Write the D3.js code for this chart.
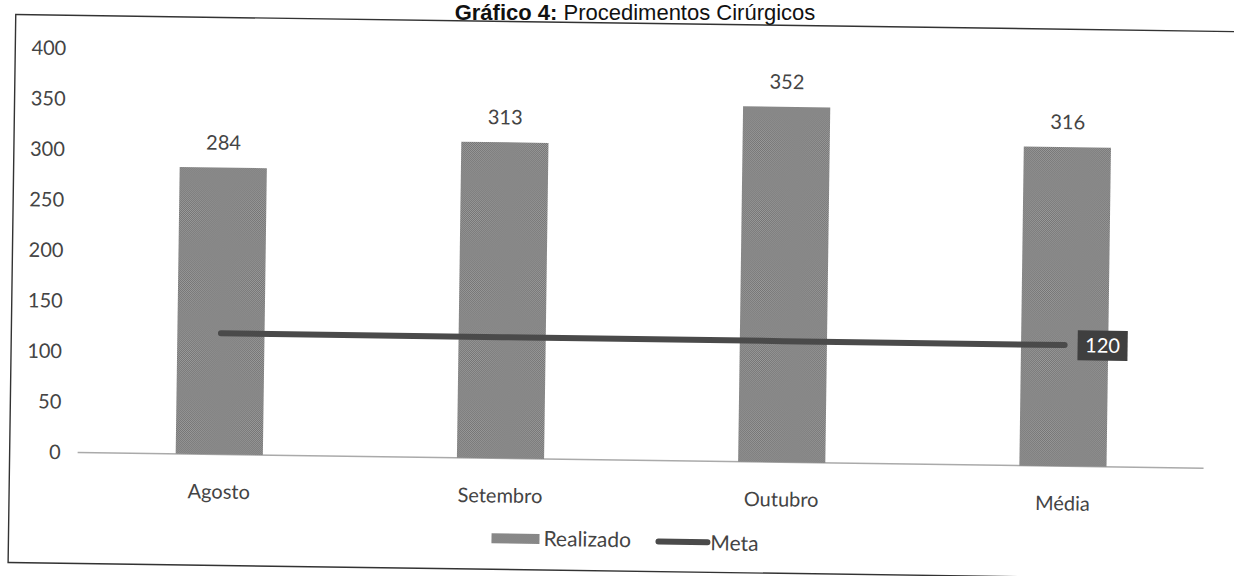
<!DOCTYPE html>
<html><head><meta charset="utf-8">
<script src="https://cdn.jsdelivr.net/npm/d3@7"></script>
<style>body{margin:0;background:#fff}svg{display:block}</style>
</head><body>
<svg id="c" width="1234" height="576"></svg>
<script>
const categories = ["Agosto","Setembro","Outubro","Média"];
const realizado = [284,313,352,316];
const meta = [120,120,120,120];
const yTicks = [0,50,100,150,200,250,300,350,400];

const svg = d3.select("#c");
const g = svg.append("g").attr("transform","rotate(0.8,617,288)");
const font = "Lato, 'Open Sans', sans-serif";

// pattern for halftone gray
const defs = svg.append("defs");
const pat = defs.append("pattern").attr("id","ht").attr("width",2).attr("height",2).attr("patternUnits","userSpaceOnUse");
pat.append("rect").attr("width",2).attr("height",2).attr("fill","#9c9c9c");
pat.append("rect").attr("width",1).attr("height",1).attr("fill","#737373");
pat.append("rect").attr("x",1).attr("y",1).attr("width",1).attr("height",1).attr("fill","#737373");

// frame
g.append("rect").attr("x",12).attr("y",23).attr("width",1240).attr("height",548)
 .attr("fill","none").attr("stroke","#333").attr("stroke-width",1.4);

// title
const t = svg.append("text").attr("x",635).attr("y",20).attr("text-anchor","middle")
 .attr("font-family","Arial, 'Liberation Sans', sans-serif").attr("font-size",22).attr("fill","#111");
t.append("tspan").attr("font-weight","bold").text("Gráfico 4:");
t.append("tspan").text(" Procedimentos Cirúrgicos");

const x = d3.scaleBand().domain(categories).range([81,1206]).paddingInner(0.69).paddingOuter(0.345);
const y = d3.scaleLinear().domain([0,400]).range([460,56]);

// y axis labels
const ya = g.append("g").attr("transform","translate(63,0)")
 .call(d3.axisLeft(y).tickValues(yTicks).tickSize(0).tickPadding(0));
ya.select(".domain").remove();
ya.selectAll("text").attr("font-family",font).attr("font-size",20).attr("fill","#444");

// baseline
g.append("line").attr("x1",80).attr("x2",1206).attr("y1",y(0)).attr("y2",y(0))
 .attr("stroke","#aaa").attr("stroke-width",1.5);

// x labels
const xa = g.append("g").attr("transform",`translate(0,${y(0)})`)
 .call(d3.axisBottom(x).tickSize(0).tickPadding(30));
xa.select(".domain").remove();
xa.selectAll("text").attr("font-family",font).attr("font-size",20).attr("fill","#444");

// bars
g.selectAll(".bar").data(realizado).enter().append("rect")
 .attr("x",(d,i)=>x(categories[i])).attr("width",x.bandwidth())
 .attr("y",d=>y(d)).attr("height",d=>y(0)-y(d)).attr("fill","url(#ht)");

// bar labels
g.selectAll(".bl").data(realizado).enter().append("text")
 .attr("x",(d,i)=>x(categories[i])+x.bandwidth()/2).attr("y",d=>y(d)-18)
 .attr("text-anchor","middle").attr("font-family",font).attr("font-size",20).attr("fill","#444")
 .text(d=>d);

// meta line
const line = d3.line().x((d,i)=>x(categories[i])+x.bandwidth()/2).y(d=>y(d));
g.append("path").datum(meta).attr("d",line).attr("fill","none")
 .attr("stroke","#4a4a4a").attr("stroke-width",6).attr("stroke-linecap","round");

// meta label
const last = meta.length-1;
const lx = x(categories[last])+x.bandwidth()/2+13, ly = y(meta[last]);
g.append("rect").attr("x",lx).attr("y",ly-15).attr("width",50).attr("height",30).attr("fill","#3f3f3f");
g.append("text").attr("x",lx+25).attr("y",ly+7).attr("text-anchor","middle")
 .attr("font-family",font).attr("font-size",20).attr("fill","#fff").text(meta[last]);

// legend
const lg = g.append("g");
lg.append("rect").attr("x",495).attr("y",535).attr("width",48).attr("height",10).attr("fill","url(#ht)");
lg.append("text").attr("x",547).attr("y",547).attr("font-family",font).attr("font-size",21).attr("fill","#444").text("Realizado");
lg.append("line").attr("x1",662).attr("x2",711).attr("y1",541).attr("y2",541)
 .attr("stroke","#4a4a4a").attr("stroke-width",6).attr("stroke-linecap","round");
lg.append("text").attr("x",714).attr("y",549).attr("font-family",font).attr("font-size",21).attr("fill","#444").text("Meta");
</script>
</body></html>
